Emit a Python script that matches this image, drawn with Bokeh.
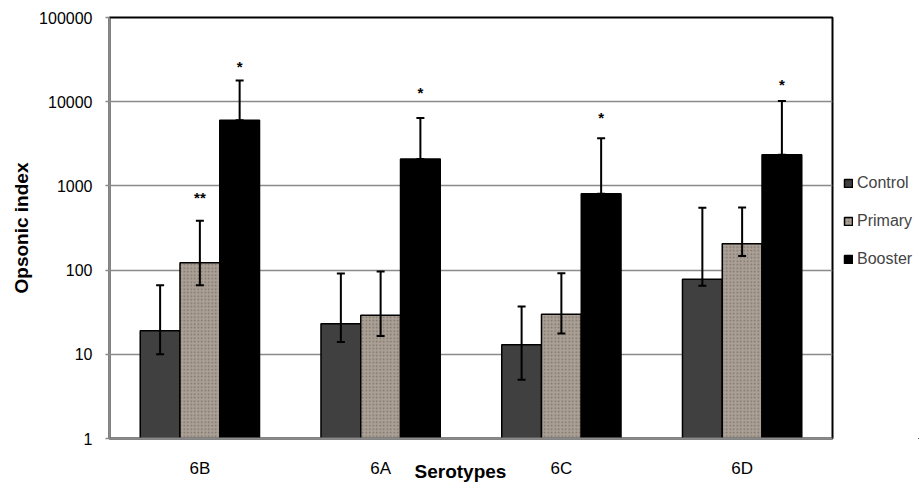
from bokeh.plotting import figure
from bokeh.models import (ColumnDataSource, FactorRange, Range1d, FixedTicker, PrintfTickFormatter,
                          Whisker, TeeHead, Legend, LegendItem)
from bokeh.layouts import row
from bokeh.transform import dodge
from bokeh.core.properties import value
from bokeh.embed import file_html
from bokeh.resources import INLINE

serotypes = ["6B", "6A", "6C", "6D"]
series = ["Control", "Primary", "Booster"]

control = [19, 23, 13, 78]
control_lower = [10, 14, 5, 65]
control_upper = [66, 91, 37, 550]

primary = [122, 29, 30, 206]
primary_lower = [66, 16.5, 17.7, 147]
primary_upper = [386, 96, 92, 555]

booster = [6010, 2080, 807, 2340]
booster_lower = [6010, 2080, 807, 2340]
booster_upper = [17900, 6410, 3680, 10200]

primary_star_groups = ["6B"]
primary_star_text = ["**"]
primary_star_y = [720]

booster_star_groups = ["6B", "6A", "6C", "6D"]
booster_star_text = ["*", "*", "*", "*"]
booster_star_y = [26000, 12700, 6520, 16200]

y_ticks = [1, 10, 100, 1000, 10000, 100000]

FONT = "Liberation Sans"

p = figure(x_range=FactorRange(*serotypes, range_padding=0), y_range=Range1d(1, 100000),
           y_axis_type="log", width=834, height=484, output_backend="svg",
           toolbar_location=None, min_border_left=109, min_border_right=2,
           min_border_top=17, min_border_bottom=37)

# legend-only panel to the right of the plot (its swatch renderers draw nothing visible)
pl = figure(width=85, height=484, output_backend="svg", toolbar_location=None,
            x_range=FactorRange(*serotypes), y_range=Range1d(1e7, 1e8),
            x_axis_type=None, y_axis_type=None, min_border=0)
pl.grid.visible = False
pl.outline_line_color = None

off = 0.22
bw = 0.22
specs = [
    ("Control", control, control_lower, control_upper, -off, dict(fill_color="#404040")),
    ("Primary", primary, primary_lower, primary_upper, 0.0,
     dict(fill_color="#aaa095", hatch_pattern="dot", hatch_color="#6a6057", hatch_scale=3.5,
          hatch_alpha=0.7, hatch_weight=1)),
    ("Booster", booster, booster_lower, booster_upper, off, dict(fill_color="#000000")),
]

items = []
for name, vals, lo, hi, o, style in specs:
    src = ColumnDataSource(dict(x=serotypes, top=vals, lower=lo, upper=hi))
    p.vbar(x=dodge("x", o, range=p.x_range), top="top", bottom=1, width=bw, source=src,
           line_color="black", line_width=1.5, **style)
    w = Whisker(source=src, base=dodge("x", o, range=p.x_range), upper="upper", lower="lower",
                line_color="black", line_width=2, level="overlay",
                upper_head=TeeHead(size=8, line_width=2, line_color="black"),
                lower_head=TeeHead(size=8, line_width=2, line_color="black"))
    p.add_layout(w)
    rl = pl.vbar(x=dodge("x", 50, range=pl.x_range), top="top", bottom="top", width=0,
                 source=src, line_color="black", line_width=1.5, **style)
    items.append(LegendItem(label=name, renderers=[rl]))

ps = ColumnDataSource(dict(x=primary_star_groups, y=primary_star_y, t=primary_star_text))
p.text(x=dodge("x", 0.0, range=p.x_range), y="y", text="t", source=ps, text_align="center",
       text_baseline="alphabetic", text_font_size="15px", text_font=value(FONT),
       text_font_style="bold", text_color="black")
bs = ColumnDataSource(dict(x=booster_star_groups, y=booster_star_y, t=booster_star_text))
p.text(x=dodge("x", off, range=p.x_range), y="y", text="t", source=bs, text_align="center",
       text_baseline="alphabetic", text_font_size="15px", text_font=value(FONT),
       text_font_style="bold", text_color="black")

legend = Legend(items=items, location=(9, 170), glyph_width=10, glyph_height=10,
                label_text_font_size="16px", label_text_font=FONT, spacing=20, padding=0,
                label_height=16, label_standoff=4, border_line_color=None,
                background_fill_alpha=0, margin=0)
pl.add_layout(legend)

# axes
p.yaxis.ticker = FixedTicker(ticks=y_ticks)
p.yaxis.formatter = PrintfTickFormatter(format="%d")
p.yaxis.minor_tick_line_color = None
p.yaxis.major_tick_in = 0
p.yaxis.major_tick_out = 4
p.yaxis.major_tick_line_color = "#8a8a8a"
p.yaxis.major_tick_line_width = 1.5
p.yaxis.axis_line_color = "#8a8a8a"
p.yaxis.axis_line_width = 1.5
p.yaxis.major_label_text_font = FONT
p.yaxis.major_label_text_font_size = "16px"
p.yaxis.major_label_text_color = "black"
p.yaxis.major_label_standoff = 13
p.yaxis.axis_label = "Opsonic index"
p.yaxis.axis_label_text_font = FONT
p.yaxis.axis_label_text_font_size = "19px"
p.yaxis.axis_label_text_font_style = "bold"
p.yaxis.axis_label_text_color = "black"
p.yaxis.axis_label_standoff = 4

p.xaxis.major_tick_line_color = None
p.xaxis.minor_tick_line_color = None
p.xaxis.axis_line_color = "#8a8a8a"
p.xaxis.axis_line_width = 2
p.xaxis.major_label_text_font = FONT
p.xaxis.major_label_text_font_size = "17px"
p.xaxis.major_label_text_color = "black"
p.xaxis.major_label_standoff = 14
p.xaxis.axis_label = "Serotypes\u00a0\u00a0\u00a0\u00a0"
p.xaxis.axis_label_text_font = FONT
p.xaxis.axis_label_text_font_size = "19px"
p.xaxis.axis_label_text_font_style = "bold"
p.xaxis.axis_label_text_color = "black"
p.xaxis.axis_label_standoff = -20

p.xgrid.grid_line_color = None
p.ygrid.ticker = FixedTicker(ticks=y_ticks)
p.ygrid.grid_line_color = "#8a8a8a"
p.ygrid.grid_line_width = 1.5
p.ygrid.minor_grid_line_color = None

p.outline_line_color = "black"
p.outline_line_width = 2
p.background_fill_color = "white"
p.border_fill_color = "white"

layout = row(p, pl)
open("out.html", "w").write(file_html(layout, INLINE))
